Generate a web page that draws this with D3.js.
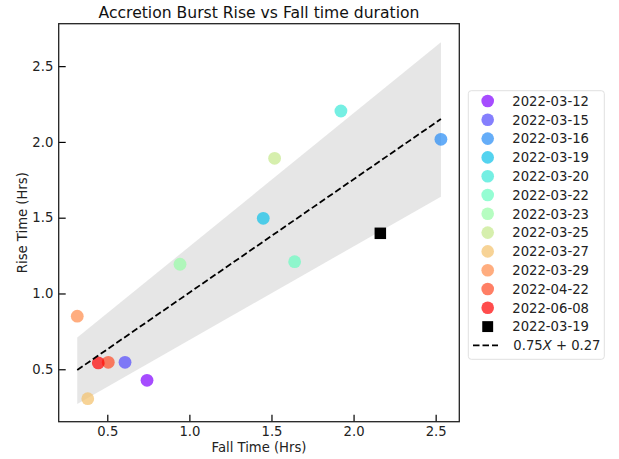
<!DOCTYPE html>
<html>
<head>
<meta charset="utf-8">
<script src="https://cdn.jsdelivr.net/npm/d3@7"></script>
<style>
  html, body { margin: 0; padding: 0; background: #fff; }
  svg { display: block; font-family: "DejaVu Sans", sans-serif; }
</style>
</head>
<body>
<svg id="chart" width="619" height="459"></svg>
<script>
// ---- data ----
const dates = ["2022-03-12","2022-03-15","2022-03-16","2022-03-19","2022-03-20","2022-03-22",
               "2022-03-23","2022-03-25","2022-03-27","2022-03-29","2022-04-22","2022-06-08"];
const fallTimes = [0.742, 0.608, 2.532, 1.450, 1.923, 1.641, 0.943, 1.519, 0.381, 0.317, 0.506, 0.445];
const riseTimes = [0.427, 0.546, 2.017, 1.496, 2.204, 1.210, 1.193, 1.892, 0.306, 0.850, 0.546, 0.542];
const extraLabel = "2022-03-19";
const extraFall = [2.163];
const extraRise = [1.397];
const fitLabel = ["0.75", "X", " + 0.27"];
const fitX = [0.317, 2.532];
const fitY = [0.495, 2.151];
const bandUpper = [0.709, 2.657];
const bandLower = [0.271, 1.639];
const xTicks = [0.5, 1.0, 1.5, 2.0, 2.5];
const yTicks = [0.5, 1.0, 1.5, 2.0, 2.5];

// ---- layout ----
const L = 58.7, R = 459.3, T = 23.7, B = 421.7;
const svg = d3.select("#chart");
const x = d3.scaleLinear().domain([0.204, 2.644]).range([L, R]);
const y = d3.scaleLinear().domain([0.154, 2.78]).range([B, T]);

function rainbow(t) {
  const c = v => Math.max(0, Math.min(1, v));
  const r = c(Math.abs(2 * t - 0.5)), g = c(Math.sin(Math.PI * t)), b = c(Math.cos(Math.PI * t / 2));
  return d3.rgb(r * 255, g * 255, b * 255).toString();
}
const colors = dates.map((d, i) => rainbow(i / (dates.length - 1)));
const ALPHA = 0.7;

// band
const bandPts = fitX.map((v, i) => [x(v), y(bandUpper[i])])
  .concat(fitX.slice().reverse().map((v, i) => [x(v), y(bandLower[fitX.length - 1 - i])]));
svg.append("path")
  .attr("d", d3.line()(bandPts) + "Z")
  .attr("fill", "#808080").attr("fill-opacity", 0.2);

// scatter
const pts = dates.map((d, i) => ({ d, fx: fallTimes[i], ry: riseTimes[i], c: colors[i] }));
svg.append("g").selectAll("circle").data(pts).enter().append("circle")
  .attr("cx", p => x(p.fx)).attr("cy", p => y(p.ry)).attr("r", 6.4)
  .attr("fill", p => p.c).attr("fill-opacity", ALPHA);

// extra black square
const sq = 11.5;
svg.append("g").selectAll("rect").data(extraFall.map((v, i) => [v, extraRise[i]])).enter().append("rect")
  .attr("x", d => x(d[0]) - sq / 2).attr("y", d => y(d[1]) - sq / 2)
  .attr("width", sq).attr("height", sq).attr("fill", "#000");

// fit line
svg.append("path")
  .attr("d", d3.line()(fitX.map((v, i) => [x(v), y(fitY[i])])))
  .attr("fill", "none").attr("stroke", "#000").attr("stroke-width", 1.8)
  .attr("stroke-dasharray", "6.5,3");

// axes
const fs = "13.2px";
const gx = svg.append("g").attr("transform", `translate(0,${B})`)
  .call(d3.axisBottom(x).tickValues(xTicks).tickFormat(d3.format(".1f")).tickSize(-7).tickPadding(5));
const gy = svg.append("g").attr("transform", `translate(${L},0)`)
  .call(d3.axisLeft(y).tickValues(yTicks).tickFormat(d3.format(".1f")).tickSize(-7).tickPadding(5.4));
[gx, gy].forEach(g => {
  g.select(".domain").remove();
  g.selectAll("line").attr("stroke", "#000").attr("stroke-width", 1.2);
  g.selectAll("text").attr("fill", "#222").style("font-size", fs).style("font-family", "DejaVu Sans");
});

// frame
svg.append("rect").attr("x", L).attr("y", T).attr("width", R - L).attr("height", B - T)
  .attr("fill", "none").attr("stroke", "#222").attr("stroke-width", 1.3);

// title & labels
svg.append("text").attr("x", (L + R) / 2).attr("y", 17.5).attr("text-anchor", "middle")
  .style("font-size", "15.6px").attr("fill", "#111").text("Accretion Burst Rise vs Fall time duration");
svg.append("text").attr("x", (L + R) / 2).attr("y", 452).attr("text-anchor", "middle")
  .style("font-size", fs).attr("fill", "#222").text("Fall Time (Hrs)");
svg.append("text").attr("transform", `translate(26.5,${(T + B) / 2}) rotate(-90)`).attr("text-anchor", "middle")
  .style("font-size", fs).attr("fill", "#222").text("Rise Time (Hrs)");

// legend
const lg = svg.append("g");
lg.append("rect").attr("x", 468.3).attr("y", 90.7).attr("width", 136).attr("height", 268.6)
  .attr("rx", 3).attr("fill", "#fff").attr("stroke", "#e0e0e0").attr("stroke-width", 1);
const row0 = 101, step = 18.8, mx = 487.7, tx = 512.3;
pts.forEach((p, i) => {
  const yy = row0 + i * step;
  lg.append("circle").attr("cx", mx).attr("cy", yy).attr("r", 6.3).attr("fill", p.c).attr("fill-opacity", ALPHA);
  lg.append("text").attr("x", tx).attr("y", yy).attr("dy", "0.36em").style("font-size", fs).attr("fill", "#222").text(p.d);
});
{
  const yy = row0 + dates.length * step;
  lg.append("rect").attr("x", mx - sq / 2 + 0.3).attr("y", yy - sq / 2 + 0.3).attr("width", sq - 0.6).attr("height", sq - 0.6).attr("fill", "#000");
  lg.append("text").attr("x", tx).attr("y", yy).attr("dy", "0.36em").style("font-size", fs).attr("fill", "#222").text(extraLabel);
}
{
  const yy = row0 + (dates.length + 1) * step;
  lg.append("line").attr("x1", 473).attr("x2", 498).attr("y1", yy).attr("y2", yy)
    .attr("stroke", "#000").attr("stroke-width", 1.8).attr("stroke-dasharray", "6.5,3");
  const t = lg.append("text").attr("x", tx + 1).attr("y", yy).attr("dy", "0.36em").style("font-size", fs).attr("fill", "#222");
  t.append("tspan").text(fitLabel[0]);
  t.append("tspan").style("font-style", "italic").text(fitLabel[1]);
  t.append("tspan").text(fitLabel[2]);
}
</script>
</body>
</html>
